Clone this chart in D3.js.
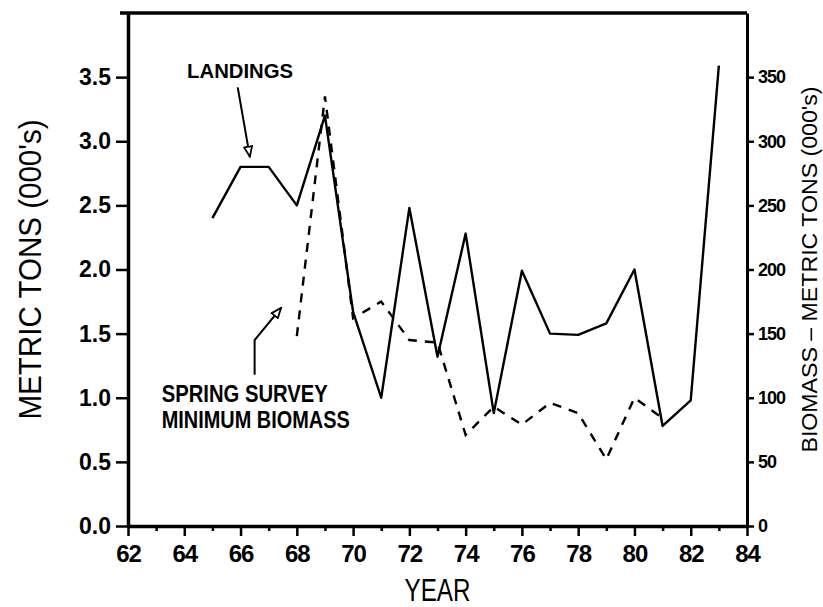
<!DOCTYPE html>
<html lang="en">
  <head>
    <meta charset="UTF-8" />
    <script src="https://d3js.org/d3.v7.min.js"></script>
    <title>Landings and Biomass</title>
    <style>
      body {
        margin: 0;
        background: #fff;
      }
      text {
        font-family: "Liberation Sans", Arial, sans-serif;
        fill: #000;
      }
      .axis text {
        font-weight: bold;
      }
      .axis path,
      .axis line {
        stroke: #000;
      }
    </style>
  </head>
  <body>
    <svg id="chart" width="823" height="607"></svg>
    <script>
      // landings, thousands of metric tons
      const landingYears = [65, 66, 67, 68, 69, 70, 71, 72, 73, 74, 75, 76, 77, 78, 79, 80, 81, 82, 83];
      const landings = [2.4, 2.8, 2.8, 2.5, 3.2, 1.67, 1.0, 2.48, 1.32, 2.28, 0.88, 1.99, 1.5, 1.49, 1.58, 2.0, 0.78, 0.98, 3.59];

      // spring survey minimum biomass, thousands of metric tons
      const biomassYears = [68, 69, 70, 71, 72, 73, 74, 75, 76, 77, 78, 79, 80, 81];
      const biomass = [148, 335, 162, 175, 145, 143, 71, 93, 79, 96, 88, 52, 100, 84];

      const xTicks = d3.range(62, 85, 2);
      const xMinorTicks = d3.range(63, 84, 2);
      const yTicks = [0, 0.5, 1.0, 1.5, 2.0, 2.5, 3.0, 3.5];
      const yRightTicks = [0, 50, 100, 150, 200, 250, 300, 350];

      const svg = d3.select("#chart");

      const x = d3.scaleLinear().domain([62, 84]).range([128, 747]);
      const y = d3.scaleLinear().domain([0, 4]).range([526, 13]);
      const yR = d3.scaleLinear().domain([0, 400]).range([526, 13]);

      // frame top line (runs a little past the left axis)
      svg.append("line")
        .attr("x1", x(62) - 8)
        .attr("x2", x(84))
        .attr("y1", y(4))
        .attr("y2", y(4))
        .attr("stroke", "#000")
        .attr("stroke-width", 3.5);

      // bottom axis
      const xAxis = svg.append("g")
        .attr("class", "axis")
        .attr("transform", `translate(0,${y(0)})`)
        .call(d3.axisBottom(x).tickValues(xTicks).tickFormat(d3.format("d"))
          .tickSize(10).tickSizeOuter(0).tickPadding(9));
      xAxis.select(".domain").attr("stroke-width", 3.5);
      xAxis.selectAll(".tick line").attr("stroke-width", 2.5);
      xAxis.selectAll("text").style("font-size", "24px").attr("letter-spacing", "-1");

      svg.append("g")
        .attr("class", "axis")
        .attr("transform", `translate(0,${y(0)})`)
        .call(d3.axisBottom(x).tickValues(xMinorTicks).tickFormat("").tickSize(5).tickSizeOuter(0))
        .call(g => g.select(".domain").remove())
        .selectAll(".tick line").attr("stroke-width", 2.5);

      // left axis
      const yAxis = svg.append("g")
        .attr("class", "axis")
        .attr("transform", `translate(${x(62)},0)`)
        .call(d3.axisLeft(y).tickValues(yTicks).tickFormat(d3.format(".1f"))
          .tickSize(12).tickSizeOuter(0).tickPadding(5));
      yAxis.select(".domain").attr("stroke-width", 3.5);
      yAxis.selectAll(".tick line").attr("stroke-width", 2.5);
      yAxis.selectAll("text").style("font-size", "23px");

      // right axis
      const yRAxis = svg.append("g")
        .attr("class", "axis")
        .attr("transform", `translate(${x(84)},0)`)
        .call(d3.axisRight(yR).tickValues(yRightTicks)
          .tickSize(7).tickSizeOuter(0).tickPadding(4));
      yRAxis.select(".domain").attr("stroke-width", 3);
      yRAxis.selectAll(".tick line").attr("stroke-width", 2.5);
      yRAxis.selectAll("text").style("font-size", "18px").attr("letter-spacing", "-1");

      // axis titles
      svg.append("text")
        .attr("transform", `translate(41,${y(2.0)}) rotate(-90)`)
        .attr("text-anchor", "middle")
        .attr("textLength", 300)
        .attr("lengthAdjust", "spacingAndGlyphs")
        .style("font-size", "32px")
        .text("METRIC TONS (000's)");

      svg.append("text")
        .attr("transform", `translate(817,${y(2.0)}) rotate(-90)`)
        .attr("text-anchor", "middle")
        .attr("textLength", 366)
        .attr("lengthAdjust", "spacingAndGlyphs")
        .style("font-size", "22px")
        .text("BIOMASS – METRIC TONS (000's)");

      svg.append("text")
        .attr("x", x(73))
        .attr("y", 601)
        .attr("text-anchor", "middle")
        .attr("textLength", 66)
        .attr("lengthAdjust", "spacingAndGlyphs")
        .style("font-size", "32px")
        .text("YEAR");

      // series
      const landingLine = d3.line()
        .x((d, i) => x(landingYears[i]))
        .y(d => y(d));

      const biomassLine = d3.line()
        .x((d, i) => x(biomassYears[i]))
        .y(d => yR(d));

      svg.append("path")
        .datum(landings)
        .attr("fill", "none")
        .attr("stroke", "#000")
        .attr("stroke-width", 2.4)
        .attr("stroke-linejoin", "round")
        .attr("d", landingLine);

      svg.append("path")
        .datum(biomass)
        .attr("fill", "none")
        .attr("stroke", "#000")
        .attr("stroke-width", 2.4)
        .attr("stroke-dasharray", "9,8")
        .attr("d", biomassLine);

      // arrowhead marker (open triangle)
      svg.append("defs").append("marker")
        .attr("id", "arrow")
        .attr("viewBox", "0 -5 12 10")
        .attr("refX", 11)
        .attr("refY", 0)
        .attr("markerWidth", 12)
        .attr("markerHeight", 10)
        .attr("markerUnits", "userSpaceOnUse")
        .attr("orient", "auto")
        .append("path")
        .attr("d", "M1,-4L11,0L1,4Z")
        .attr("fill", "#fff")
        .attr("stroke", "#000")
        .attr("stroke-width", 1.8);

      // annotations
      svg.append("text")
        .attr("x", x(64.1))
        .attr("y", y(3.49))
        .attr("textLength", 106)
        .attr("lengthAdjust", "spacingAndGlyphs")
        .style("font-size", "21px")
        .style("font-weight", "bold")
        .text("LANDINGS");

      svg.append("path")
        .attr("fill", "none")
        .attr("stroke", "#000")
        .attr("stroke-width", 2)
        .attr("marker-end", "url(#arrow)")
        .attr("d", d3.line()([[x(65.9), y(3.42)], [x(66.33), y(2.88)]]));

      svg.append("text")
        .attr("x", x(63.2))
        .attr("y", y(0.965))
        .attr("textLength", 166)
        .attr("lengthAdjust", "spacingAndGlyphs")
        .style("font-size", "23px")
        .style("font-weight", "bold")
        .text("SPRING SURVEY");

      svg.append("text")
        .attr("x", x(63.2))
        .attr("y", y(0.765))
        .attr("textLength", 188)
        .attr("lengthAdjust", "spacingAndGlyphs")
        .style("font-size", "23px")
        .style("font-weight", "bold")
        .text("MINIMUM BIOMASS");

      svg.append("path")
        .attr("fill", "none")
        .attr("stroke", "#000")
        .attr("stroke-width", 2)
        .attr("marker-end", "url(#arrow)")
        .attr("d", d3.line()([[x(66.5), y(1.18)], [x(66.5), y(1.45)], [x(67.44), y(1.70)]]));
    </script>
  </body>
</html>
